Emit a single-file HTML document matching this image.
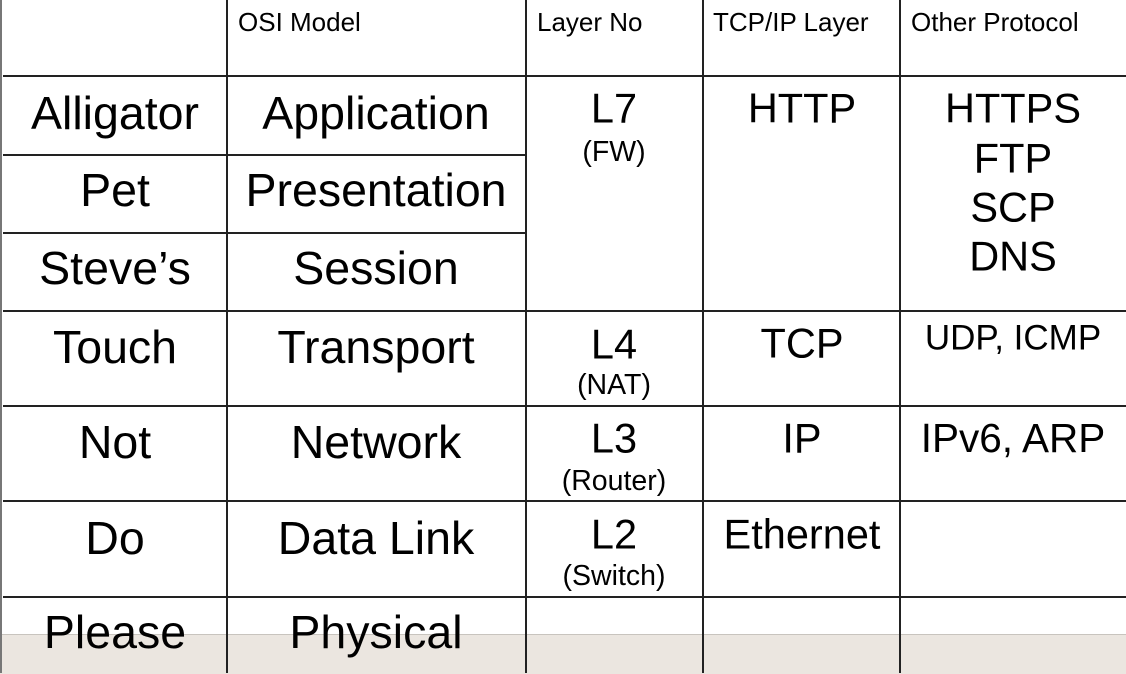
<!DOCTYPE html>
<html><head><meta charset="utf-8"><style>
body{margin:0;width:1126px;height:673px;overflow:hidden;background:#fff;position:relative;font-family:"Liberation Sans",Arial,sans-serif;color:#000}
.h{position:absolute;left:3px;right:0;height:2px;background:#222}
.v{position:absolute;top:0;width:2px;height:673px;background:#222}
.t{position:absolute;transform:translate(-50%,-50%);white-space:nowrap;line-height:1}
.hd{position:absolute;top:7px;font-size:26px;white-space:nowrap}
.b{font-size:46.5px}.m{font-size:41.5px}.s{font-size:28.5px}
</style></head><body>
<div style="position:absolute;left:0;top:634px;width:1126px;height:39px;background:#ebe6e0;border-top:1px solid #c8c4be"></div>
<div style="position:absolute;left:0;top:0;width:2px;height:673px;background:#777"></div>
<div class="h" style="top:75px"></div>
<div class="h" style="top:154px;right:600px"></div>
<div class="h" style="top:232px;right:600px"></div>
<div class="h" style="top:310px"></div>
<div class="h" style="top:405px"></div>
<div class="h" style="top:500px"></div>
<div class="h" style="top:596px"></div>
<div class="v" style="left:226px"></div>
<div class="v" style="left:525px"></div>
<div class="v" style="left:702px"></div>
<div class="v" style="left:899px"></div>
<div class="hd" style="left:238px">OSI Model</div>
<div class="hd" style="left:537px">Layer No</div>
<div class="hd" style="left:713px">TCP/IP Layer</div>
<div class="hd" style="left:911px">Other Protocol</div>

<div class="t b" style="left:115px;top:113px">Alligator</div>
<div class="t b" style="left:115px;top:190px">Pet</div>
<div class="t b" style="left:115px;top:268px">Steve’s</div>
<div class="t b" style="left:115px;top:347px">Touch</div>
<div class="t b" style="left:115px;top:442px">Not</div>
<div class="t b" style="left:115px;top:538px">Do</div>
<div class="t b" style="left:115px;top:632px">Please</div>

<div class="t b" style="left:376px;top:113px">Application</div>
<div class="t b" style="left:376px;top:190px">Presentation</div>
<div class="t b" style="left:376px;top:268px">Session</div>
<div class="t b" style="left:376px;top:347px">Transport</div>
<div class="t b" style="left:376px;top:442px">Network</div>
<div class="t b" style="left:376px;top:538px">Data Link</div>
<div class="t b" style="left:376px;top:632px">Physical</div>

<div class="t m" style="left:614px;top:108px">L7</div>
<div class="t s" style="left:614px;top:152px">(FW)</div>
<div class="t m" style="left:614px;top:344px">L4</div>
<div class="t s" style="left:614px;top:385px">(NAT)</div>
<div class="t m" style="left:614px;top:438px">L3</div>
<div class="t s" style="left:614px;top:481px">(Router)</div>
<div class="t m" style="left:614px;top:534px">L2</div>
<div class="t s" style="left:614px;top:576px">(Switch)</div>

<div class="t m" style="left:802px;top:108px">HTTP</div>
<div class="t m" style="left:802px;top:343px">TCP</div>
<div class="t m" style="left:802px;top:438px">IP</div>
<div class="t m" style="left:802px;top:534px">Ethernet</div>

<div class="t m" style="left:1013px;top:108px">HTTPS</div>
<div class="t m" style="left:1013px;top:158px">FTP</div>
<div class="t m" style="left:1013px;top:207px">SCP</div>
<div class="t m" style="left:1013px;top:256px">DNS</div>
<div class="t" style="left:1013px;top:338px;font-size:35px">UDP, ICMP</div>
<div class="t" style="left:1013px;top:438px;font-size:40.5px">IPv6, ARP</div>
</body></html>
